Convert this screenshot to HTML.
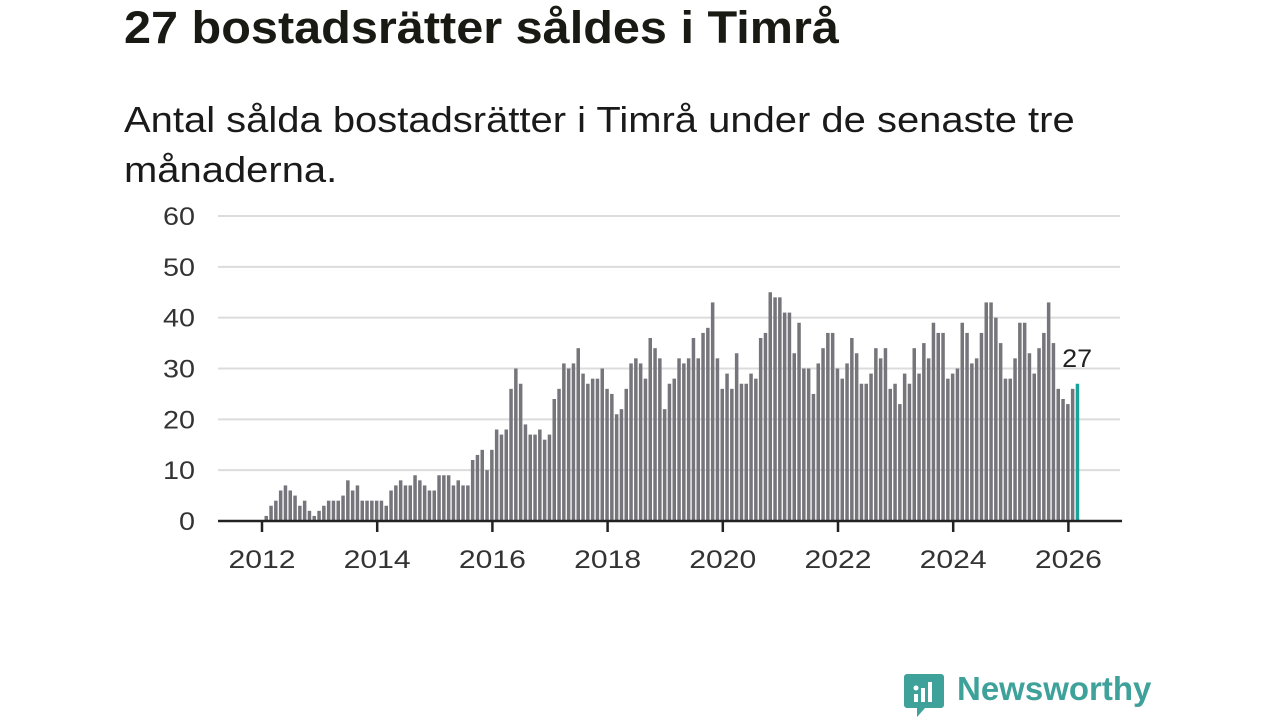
<!DOCTYPE html>
<html><head><meta charset="utf-8"><style>
body{margin:0;width:1280px;height:720px;background:#fff;font-family:"Liberation Sans",sans-serif;overflow:hidden;position:relative}
h1{position:absolute;left:124px;top:2px;margin:0;font-size:45px;font-weight:bold;color:#1a1a14;transform-origin:0 0;transform:scaleX(1.08);white-space:nowrap}
p.sub{position:absolute;left:124px;top:95px;margin:0;font-size:36px;line-height:50px;color:#1a1a1a;width:1000px;transform-origin:0 0;transform:scaleX(1.11);white-space:nowrap}
svg{position:absolute;left:0;top:0}
</style></head><body>
<h1>27 bostadsrätter såldes i Timrå</h1>
<p class="sub">Antal sålda bostadsrätter i Timrå under de senaste tre<br>månaderna.</p>
<svg id="chart" width="1280" height="720"></svg>
<div style="position:absolute;left:903px;top:672px;">
<svg width="42" height="46" style="position:absolute;left:0;top:0"><path d="M4 2h34a3 3 0 0 1 3 3v28a3 3 0 0 1-3 3H22l-8 9v-9H4a3 3 0 0 1-3-3V5a3 3 0 0 1 3-3z" fill="#3ea19a"/><rect x="11" y="22" width="4" height="8" fill="#fff"/><rect x="18" y="16" width="4" height="14" fill="#fff"/><rect x="25" y="10" width="4" height="20" fill="#fff"/><circle cx="13" cy="16" r="2.5" fill="#fff"/></svg>
<span style="position:absolute;left:54px;top:-2px;font-size:33px;font-weight:bold;color:#3ea19a;white-space:nowrap">Newsworthy</span></div>
<script>
const years=[2012,2014,2016,2018,2020,2022,2024,2026];
const yTicks=[0,10,20,30,40,50,60];
const v2012=[1,3,4,6,7,6,5,3,4,2,1,2];
const v2013=[3,4,4,4,5,8,6,7,4,4,4,4];
const v2014=[4,3,6,7,8,7,7,9,8,7,6,6];
const v2015=[9,9,9,7,8,7,7,12,13,14,10,14];
const v2016=[18,17,18,26,30,27,19,17,17,18,16,17];
const v2017=[24,26,31,30,31,34,29,27,28,28,30,26];
const v2018=[25,21,22,26,31,32,31,28,36,34,32,22];
const v2019=[27,28,32,31,32,36,32,37,38,43,32,26];
const v2020=[29,26,33,27,27,29,28,36,37,45,44,44];
const v2021=[41,41,33,39,30,30,25,31,34,37,37,30];
const v2022=[28,31,36,33,27,27,29,34,32,34,26,27];
const v2023=[23,29,27,34,29,35,32,39,37,37,28,29];
const v2024=[30,39,37,31,32,37,43,43,40,35,28,28];
const v2025=[32,39,39,33,29,34,37,43,35,26,24,23];
const v2026=[26,27];
const values=[].concat(v2012,v2013,v2014,v2015,v2016,v2017,v2018,v2019,v2020,v2021,v2022,v2023,v2024,v2025,v2026);
const NS="http://www.w3.org/2000/svg",svg=document.getElementById('chart');
const x0=262,pxYear=57.6,pm=pxYear/12;
const xs=y=>x0+(y-2012)*pxYear;
const ys=v=>521-v*(305/60);
function mk(t,a){const e=document.createElementNS(NS,t);for(const k in a)e.setAttribute(k,a[k]);svg.appendChild(e);return e;}
yTicks.forEach(t=>{
 if(t>0){const g=mk('line',{x1:218,x2:1120,y1:ys(t),y2:ys(t),stroke:'#dcdcdc','stroke-width':2});
 
 }
 const s=String(t);
 const l=mk('text',{x:195,y:ys(t)+9,'text-anchor':'end','font-size':25,fill:'#333','font-family':'Liberation Sans, sans-serif',textLength:s.length*16,lengthAdjust:'spacingAndGlyphs'});l.textContent=s;
 
 
});
values.forEach((v,i)=>{
 const last=i===values.length-1;
 const r=mk('rect',{x:x0+2.5+i*pm,y:ys(v),width:3.5,height:521-ys(v),fill:last?'#1aa39a':'#76757b'});
 
 
 if(last){const t=mk('text',{x:x0+4+i*pm,y:ys(v)-17,'text-anchor':'middle','font-size':25,fill:'#222','font-family':'Liberation Sans, sans-serif',textLength:30,lengthAdjust:'spacingAndGlyphs'});t.textContent=v;
 
 }
});
const ax=mk('line',{x1:218,x2:1122,y1:521,y2:521,stroke:'#222','stroke-width':2.5});


years.forEach(y=>{
 const tk=mk('line',{x1:xs(y),x2:xs(y),y1:521,y2:532,stroke:'#222','stroke-width':2.5});
 
 
 const l=mk('text',{x:xs(y),y:568,'text-anchor':'middle','font-size':25,fill:'#333','font-family':'Liberation Sans, sans-serif',textLength:67,lengthAdjust:'spacingAndGlyphs'});l.textContent=y;
 
 
});
</script>
</body></html>
